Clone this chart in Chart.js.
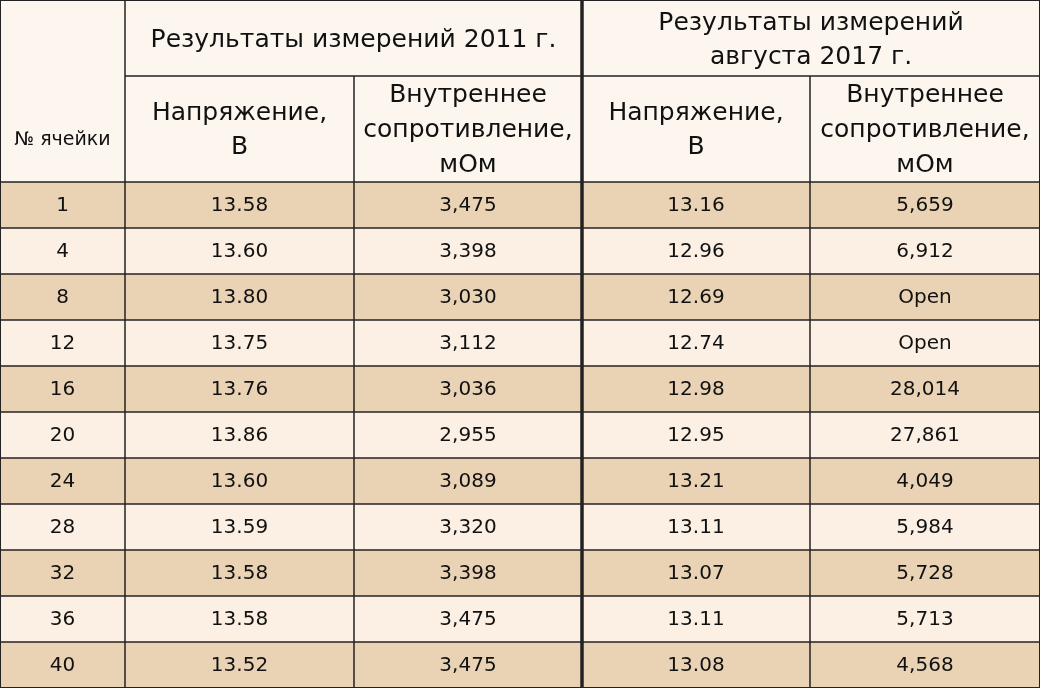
<!DOCTYPE html>
<html><head><meta charset="utf-8">
<script src="https://cdn.jsdelivr.net/npm/chart.js@4"></script>
<style>html,body{margin:0;padding:0;background:#fdf6ee}#w{width:1040px;height:688px}</style>
</head><body><div id="w"><canvas id="c"></canvas></div>
<script>
const cells = ["1","4","8","12","16","20","24","28","32","36","40"];
const volt2011 = ["13.58","13.60","13.80","13.75","13.76","13.86","13.60","13.59","13.58","13.58","13.52"];
const res2011 = ["3,475","3,398","3,030","3,112","3,036","2,955","3,089","3,320","3,398","3,475","3,475"];
const volt2017 = ["13.16","12.96","12.69","12.74","12.98","12.95","13.21","13.11","13.07","13.11","13.08"];
const res2017 = ["5,659","6,912","Open","Open","28,014","27,861","4,049","5,984","5,728","5,713","4,568"];
const groupHeaders = ["Результаты измерений 2011 г.", "Результаты измерений\nавгуста 2017 г."];
const colHeaders = ["№ ячейки","Напряжение,\nВ","Внутреннее\nсопротивление,\nмОм","Напряжение,\nВ","Внутреннее\nсопротивление,\nмОм"];
const colEdges = [0,125,354,582,810,1040];
const rowEdges = [182,228,274,320,366,412,458,504,550,596,642,688];

const tablePlugin = {
  id:'table',
  beforeDraw(chart){
    const ctx=chart.ctx, xs=chart.scales.x, ys=chart.scales.y;
    const X=v=>xs.getPixelForValue(v), Y=v=>ys.getPixelForValue(v);
    const cols=[cells,volt2011,res2011,volt2017,res2017];
    ctx.save();
    ctx.fillStyle='#fdf6ee';ctx.fillRect(X(0),Y(0),X(1040)-X(0),Y(688)-Y(0));
    for(let r=0;r<cells.length;r++){
      ctx.fillStyle = r%2===0?'#e9d3b4':'#fbf0e3';
      ctx.fillRect(X(0),Y(rowEdges[r]),X(1040)-X(0),Y(rowEdges[r+1])-Y(rowEdges[r]));
    }
    ctx.strokeStyle='#222';
    const line=(x1,y1,x2,y2,w)=>{ctx.lineWidth=w||1.5;ctx.beginPath();ctx.moveTo(X(x1),Y(y1));ctx.lineTo(X(x2),Y(y2));ctx.stroke();};
    rowEdges.forEach(y=>line(0,y,1040,y));
    line(125,76,1040,76);
    colEdges.forEach((x,i)=>{ if(i===0||i===5) return; const top=(i===1||i===3)?0:76; line(x,top,x,688,i===3?3.5:1.5);});
    line(0,0,0,688,2);line(1040,0,1040,688,2);line(0,0,1040,0,2);line(0,688,1040,688,2);
    ctx.fillStyle='#111';ctx.textAlign='center';ctx.textBaseline='middle';
    const txt=(s,cx,cy,size,lh)=>{ctx.font=size+'px "DejaVu Sans"';const ls=s.split('\n');ls.forEach((l,i)=>ctx.fillText(l,X(cx),Y(cy+(i-(ls.length-1)/2)*lh)));};
    txt(groupHeaders[0],(125+582)/2,40,25,34);
    txt(groupHeaders[1],(582+1040)/2,40,25,34);
    txt(colHeaders[0],62.5,140,19,24);
    for(let i=1;i<5;i++){const n=colHeaders[i].split('\n').length;txt(colHeaders[i],(colEdges[i]+colEdges[i+1])/2,130,25,n===2?34:35);}
    for(let c=0;c<5;c++)for(let r=0;r<cells.length;r++)
      txt(cols[c][r],(colEdges[c]+colEdges[c+1])/2,(rowEdges[r]+rowEdges[r+1])/2+1,20,24);
    ctx.restore();
  }
};
new Chart(document.getElementById('c'),{
  type:'scatter',
  data:{datasets:[{data:[]}]},
  plugins:[tablePlugin],
  options:{responsive:true,maintainAspectRatio:false,animation:false,
    layout:{padding:0},
    plugins:{legend:{display:false},tooltip:{enabled:false}},
    scales:{x:{type:'linear',min:0,max:1040,display:false},
            y:{type:'linear',min:0,max:688,reverse:true,display:false}}}
});
</script></body></html>
